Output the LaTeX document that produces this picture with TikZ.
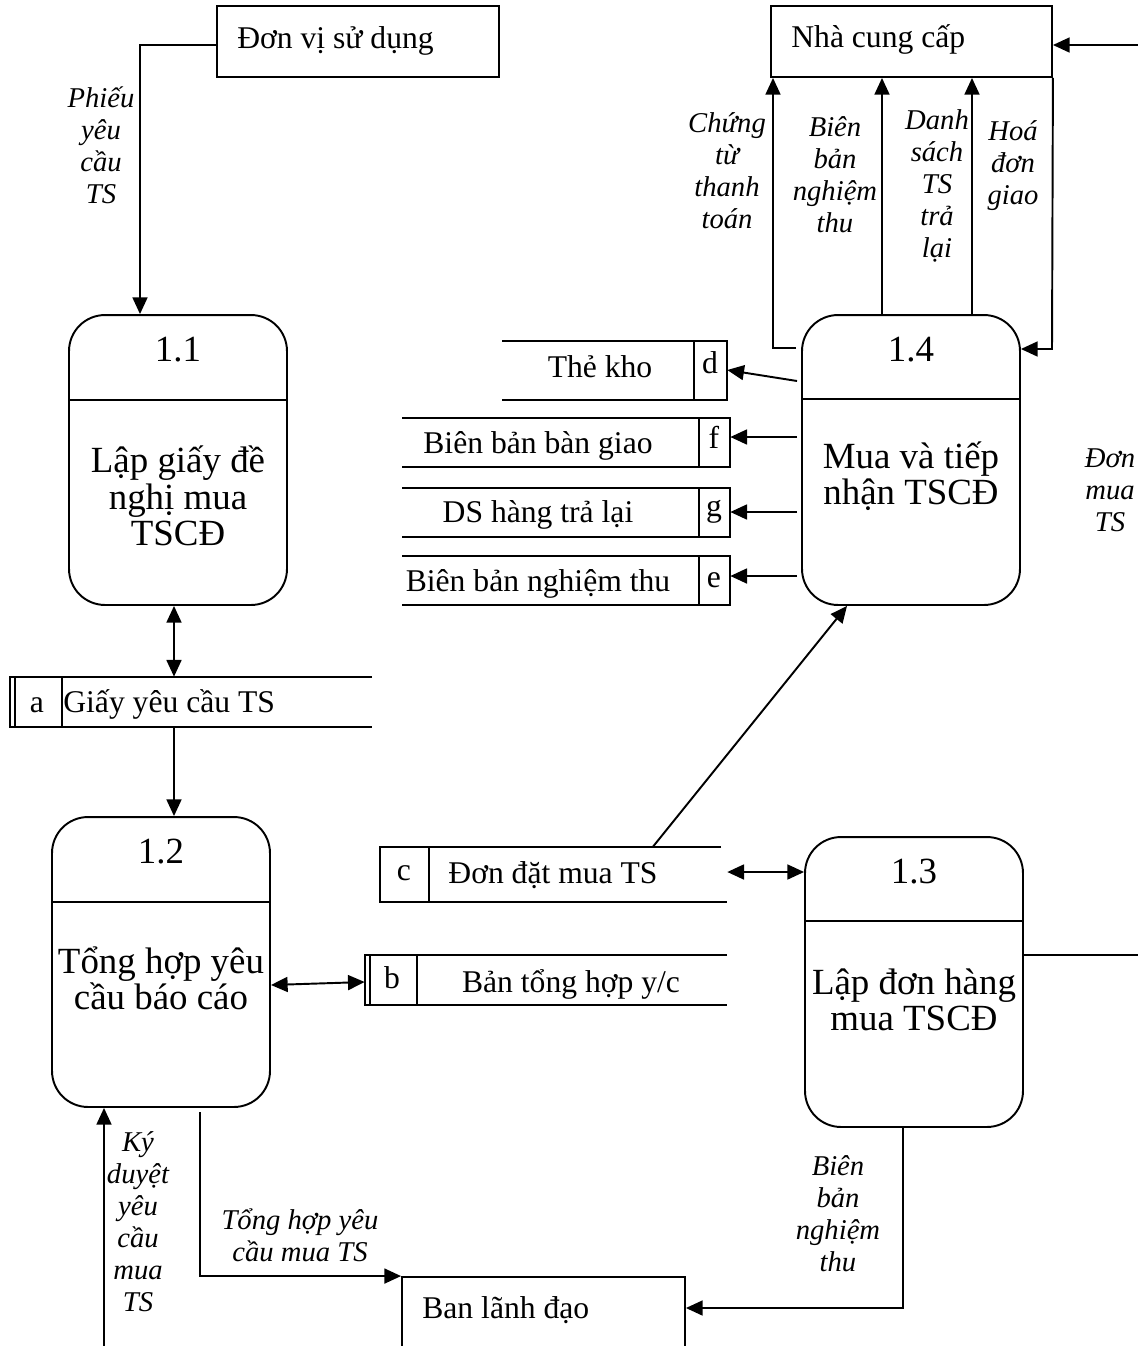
\documentclass[tikz,border=0pt]{standalone}
\usepackage{fontspec}
\setmainfont{Liberation Serif}
\usetikzlibrary{arrows.meta}
\begin{document}
\begin{tikzpicture}[x=0.02cm,y=-0.02cm,
  lw/.style={line width=1.1pt},
  proc/.style={draw,lw,rounded corners=0.72cm,minimum width=4.36cm,minimum height=5.8cm,inner sep=0pt},
  ent/.style={draw,lw,inner sep=0pt},
  reg/.style={inner sep=0pt},
  etext/.style={inner sep=0pt,anchor=base west,font=\fontsize{18}{20}\selectfont},
  stext/.style={inner sep=0pt,anchor=base,font=\fontsize{18}{20}\selectfont},
  pnum/.style={inner sep=0pt,anchor=base,font=\fontsize{21}{24}\selectfont},
  ptext/.style={inner sep=0pt,align=center,font=\fontsize{21}{20.7}\selectfont},
  lab/.style={inner sep=0pt,align=center,font=\fontsize{16.3}{18.2}\selectfont\itshape},
  flow/.style={lw,-{Triangle[length=9.5pt,width=8.5pt]}},
  flowtwo/.style={lw,{Triangle[length=9.5pt,width=8.5pt]}-{Triangle[length=9.5pt,width=8.5pt]}},
  storeline/.style={line width=1pt}
]
\useasboundingbox (0,0) rectangle (1138,1346);
\clip (0,0) rectangle (1138,1346);

% ---------- processes
\node[proc] (p11) at (178,460) {};
\draw[lw] (p11.west |- 0,400) -- (p11.east |- 0,400);
\node[pnum] (n11) at (178,361) {1.1};
\node[ptext] (t11) at (178,496) {Lập giấy đề\\nghị mua\\TSCĐ};

\node[proc] (p12) at (161,962) {};
\draw[lw] (p12.west |- 0,902) -- (p12.east |- 0,902);
\node[pnum] (n12) at (161,863) {1.2};
\node[ptext] (t12) at (161,978) {Tổng hợp yêu\\cầu báo cáo};

\node[proc] (p13) at (914,982) {};
\draw[lw] (p13.west |- 0,921) -- (p13.east |- 0,921);
\node[pnum] (n13) at (914,883) {1.3};
\node[ptext] (t13) at (914,1000) {Lập đơn hàng\\mua TSCĐ};

\node[proc] (p14) at (911,460) {};
\draw[lw] (p14.west |- 0,399) -- (p14.east |- 0,399);
\node[pnum] (n14) at (911,361) {1.4};
\node[ptext] (t14) at (911,476) {Mua và tiếp\\nhận TSCĐ};

% ---------- external entities
\node[ent,minimum width=5.64cm,minimum height=1.42cm] (dvsd) at (358,41.5) {};
\node[etext] (tdvsd) at (237,48) {Đơn vị sử dụng};
\node[ent,minimum width=5.62cm,minimum height=1.42cm] (ncc) at (911.5,41.5) {};
\node[etext] (tncc) at (791,47) {Nhà cung cấp};
\node[ent,minimum width=5.66cm,minimum height=2.86cm] (bld) at (543.5,1348.5) {};
\node[etext] (tbld) at (422,1318) {Ban lãnh đạo};

% ---------- data stores
\node[reg,minimum width=7.24cm,minimum height=1cm] (sa) at (191,702) {};
\draw[storeline] (372,677) -- (10,677) -- (10,727) -- (372,727);
\draw[storeline] (15,677) -- (15,727);
\draw[storeline] (62,677) -- (62,727);
\node[stext] (la) at (37,712) {a};
\node[etext] (ta) at (63,712) {Giấy yêu cầu TS};

\node[reg,minimum width=7.24cm,minimum height=1cm] (sb) at (546,980) {};
\draw[storeline] (727,955) -- (365,955) -- (365,1005) -- (727,1005);
\draw[storeline] (370,955) -- (370,1005);
\draw[storeline] (417,955) -- (417,1005);
\node[stext] (lb) at (392,988) {b};
\node[stext] (tb) at (571,992) {Bản tổng hợp y/c};

\node[reg,minimum width=6.94cm,minimum height=1.1cm] (sc) at (553.5,874.5) {};
\draw[storeline] (721,847) -- (380,847) -- (380,902) -- (727,902);
\draw[storeline] (429,847) -- (429,902);
\node[stext] (lc) at (404,880) {c};
\node[stext] (tc) at (553,883) {Đơn đặt mua TS};

\node[reg,minimum width=4.5cm,minimum height=1.18cm] (sd) at (614.5,370.5) {};
\draw[storeline] (502,341) -- (727,341) -- (727,400) -- (502,400);
\draw[storeline] (694,341) -- (694,400);
\node[stext] (ld) at (710,373) {d};
\node[stext] (td) at (600,377) {Thẻ kho};

\node[reg,minimum width=6.56cm,minimum height=0.98cm] (sf) at (566,442.5) {};
\draw[storeline] (402,418) -- (730,418) -- (730,467) -- (402,467);
\draw[storeline] (699,418) -- (699,467);
\node[stext] (lf) at (714,448) {f};
\node[stext] (tf) at (538,453) {Biên bản bàn giao};

\node[reg,minimum width=6.56cm,minimum height=0.98cm] (sg) at (566,512.5) {};
\draw[storeline] (402,488) -- (730,488) -- (730,537) -- (402,537);
\draw[storeline] (699,488) -- (699,537);
\node[stext] (lg) at (714,516) {g};
\node[stext] (tg) at (538,522) {DS hàng trả lại};

\node[reg,minimum width=6.56cm,minimum height=0.98cm] (se) at (566,580.5) {};
\draw[storeline] (402,556) -- (730,556) -- (730,605) -- (402,605);
\draw[storeline] (699,556) -- (699,605);
\node[stext] (le) at (714,587) {e};
\node[stext] (te) at (538,591) {Biên bản nghiệm thu};

% ---------- flows
\draw[flow] (dvsd.west |- 0,45) -- (140,45) -- (140,0 |- p11.north);
\node[lab] (f1) at (101,145) {Phiếu\\yêu\\cầu\\TS};

\draw[flowtwo] (174,0 |- p11.south) -- (174,0 |- sa.north);
\draw[flow] (174,0 |- sa.south) -- (174,0 |- p12.north);
\draw[flowtwo] (p12.east |- 0,985) -- (sb.west |- 0,982);
\draw[flowtwo] (sc.east |- 0,872) -- (p13.west |- 0,872);
\draw[flow] (653,0 |- sc.north) -- (847,0 |- p14.south);

\draw[lw] (p13.east |- 0,955) -- (1150,955);
\coordinate (offr) at (1150,45);
\draw[flow] (offr) -- (ncc.east |- offr);
\node[lab] (f2) at (1110,490) {Đơn\\mua\\TS};

\draw[flow] ([xshift=-0.1cm]p14.west |- 0,348) -- (773,348) -- (773,0 |- ncc.south);
\draw[flow] (882,0 |- p14.north) -- (882,0 |- ncc.south);
\draw[flow] (972,0 |- p14.north) -- (972,0 |- ncc.south);
\draw[flow] (ncc.south east) -- (1052,349) -- (p14.east |- 0,349);
\node[lab] (f3) at (727,171) {Chứng\\từ\\thanh\\toán};
\node[lab] (f4) at (835,175) {Biên\\bản\\nghiệm\\thu};
\node[lab] (f5) at (937,186) {Danh\\sách\\TS\\trả\\lại};
\node[lab] (f6) at (1013,166) {Hoá\\đơn\\giao};

\draw[flow] ([xshift=-0.08cm]p14.west |- 0,381) -- (sd.east |- 0,370);
\draw[flow] ([xshift=-0.08cm]p14.west |- 0,437) -- (sf.east |- 0,437);
\draw[flow] ([xshift=-0.08cm]p14.west |- 0,512) -- (sg.east |- 0,512);
\draw[flow] ([xshift=-0.08cm]p14.west |- 0,576) -- (se.east |- 0,576);

\draw[flow] (903,0 |- p13.south) -- (903,1308) -- (bld.east |- 0,1308);
\node[lab] (f7) at (838,1214) {Biên\\bản\\nghiệm\\thu};

\coordinate (s12) at (200,1112);
\draw[flow] (s12) -- (200,0 |- bld.north west) -- (bld.north west);
\node[lab] (f8) at (300,1235) {Tổng hợp yêu\\cầu mua TS};

\coordinate (offb) at (104,1360);
\draw[flow] (offb) -- (104,0 |- p12.south);
\node[lab] (f9) at (138,1222) {Ký\\duyệt\\yêu\\cầu\\mua\\TS};
\end{tikzpicture}
\end{document}
